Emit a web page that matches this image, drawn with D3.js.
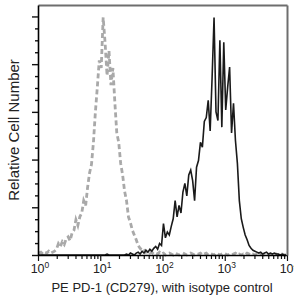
<!DOCTYPE html>
<meta charset="utf-8">
<style>
body { margin: 0; background: #fff; }
text { font-family: "Liberation Sans", Arial, sans-serif; fill: #222; }
.frame { fill: none; stroke: #6e6e6e; stroke-width: 2px; }
</style>
<svg width="294" height="298"></svg>
<script src="https://d3js.org/d3.v7.min.js"></script>
<script>

// channels are 1/32 decade wide, channel 0 starts at 10^0
var channelsPerDecade = 32;
var decades = [0, 1, 2, 3, 4];

// isotype control (grey dashed)
var isotype = [
  2, 3, 1, 3, 2, 4, 2, 3, 4, 6,
  12, 9, 14, 11, 17, 19, 15, 23, 26, 37,
  31, 40, 44, 57, 52, 71, 86, 95, 118, 150,
  176, 204, 196, 249, 222, 188, 214, 178, 196, 160,
  128, 118, 96, 84, 67, 57, 40, 34, 26, 21,
  16, 10, 7, 5, 6, 3, 4, 2, 3, 1,
  2, 1, 3, 1, 2, 0, 1, 2, 1, 0,
  2, 1, 0, 1, 2, 1, 0, 1, 2, 1,
  0, 1, 1, 2, 0, 1, 2, 0, 1, 1,
  0, 2, 1, 0, 1, 2, 1, 0, 1, 0,
  1, 2, 0, 1, 0, 1, 0, 2, 1, 0,
  1, 0, 1, 0, 1, 0, 0, 1, 0, 1,
  0, 0, 1, 0, 0, 1, 0, 0
];

// PE PD-1 (CD279) stained cells (black)
var pd1 = [
  0, 0, 0, 0, 0, 0, 0, 0, 0, 0,
  0, 0, 0, 0, 0, 0, 0, 0, 0, 0,
  0, 0, 0, 0, 0, 0, 0, 0, 0, 0,
  0, 0, 0, 0, 0, 1, 0, 0, 0, 0,
  0, 0, 0, 0, 0, 1, 0, 2, 1, 0,
  2, 3, 1, 4, 2, 5, 3, 6, 4, 7,
  9, 6, 12, 10, 33, 18, 24, 21, 30, 38,
  57, 40, 52, 44, 66, 75, 62, 84, 89, 78,
  57, 92, 99, 118, 113, 140, 144, 162, 130, 186,
  249, 150, 141, 225, 134, 223, 152, 176, 197, 128,
  159, 120, 96, 57, 38, 29, 21, 16, 10, 7,
  5, 4, 3, 2, 3, 1, 2, 3, 1, 2,
  1, 2, 1, 1, 0, 1, 0, 0
];

var yMajor = [0, 50, 100, 150, 200, 250];

var svg = d3.select("svg"),
    mLeft = 38, mRight = 287, mTop = 5, mBottom = 255;

var x = d3.scaleLog().domain([1, 10000]).range([mLeft, mRight]);
var y = d3.scaleLinear().domain([0, 262]).range([mBottom, mTop]);

function chanX(i) { return x(Math.pow(10, (i + 0.5) / channelsPerDecade)); }

var line = d3.line()
    .x(function(d, i) { return chanX(i); })
    .y(function(d) { return y(d); });

svg.append("path")
    .datum(isotype)
    .attr("d", line)
    .attr("fill", "none")
    .attr("stroke", "#a9a9a9")
    .attr("stroke-width", 2.8)
    .attr("stroke-dasharray", "5,3");

svg.append("path")
    .datum(pd1)
    .attr("d", line)
    .attr("fill", "none")
    .attr("stroke", "#1a1a1a")
    .attr("stroke-width", 1.6);

// x axis
var xMinor = [];
decades.slice(0, -1).forEach(function(p) {
  for (var m = 2; m < 10; m++) xMinor.push(m * Math.pow(10, p));
});

var xAxis = svg.append("g").attr("transform", "translate(0," + mBottom + ")");
xAxis.append("g")
    .call(d3.axisBottom(x).tickValues(xMinor).tickSize(4).tickFormat(""))
    .call(function(g) { g.select(".domain").remove(); });
xAxis.append("g")
    .call(d3.axisBottom(x).tickValues(decades.map(function(p) { return Math.pow(10, p); }))
      .tickSize(6).tickSizeOuter(0).tickFormat(""))
    .call(function(g) { g.select(".domain").attr("stroke-width", 1.6); });
xAxis.selectAll(".tick line").attr("stroke", "#111").attr("stroke-width", 1.2);

// top and right edges of the frame, drawn as axes without ticks
svg.append("g")
    .attr("transform", "translate(0," + mTop + ")")
    .call(d3.axisTop(x).tickValues([]).tickSizeOuter(0))
    .call(function(g) { g.select(".domain").attr("class", "frame"); });
svg.append("g")
    .attr("transform", "translate(" + mRight + ",0)")
    .call(d3.axisRight(y).tickValues([]).tickSizeOuter(0))
    .call(function(g) { g.select(".domain").attr("class", "frame"); });

var lab = svg.append("g").selectAll("text")
    .data(decades)
    .join("text")
    .attr("x", function(p) { return x(Math.pow(10, p)) + 2; })
    .attr("y", 273)
    .attr("text-anchor", "middle")
    .style("font-size", "12.5px");
lab.append("tspan").text("10");
lab.append("tspan").attr("dy", -5).style("font-size", "8.5px").text(function(p) { return p; });

// y axis
var yMinor = d3.range(0, 262, 12.5).filter(function(v) { return v % 50 !== 0; });
var yAxis = svg.append("g").attr("transform", "translate(" + mLeft + ",0)");
yAxis.append("g")
    .call(d3.axisLeft(y).tickValues(yMinor).tickSize(3).tickFormat(""))
    .call(function(g) { g.select(".domain").remove(); });
yAxis.append("g")
    .call(d3.axisLeft(y).tickValues(yMajor).tickSize(6).tickSizeOuter(0).tickFormat(""))
    .call(function(g) { g.select(".domain").attr("stroke-width", 1.6); });
yAxis.selectAll(".tick line").attr("stroke", "#111").attr("stroke-width", 1.4);

svg.append("text")
    .attr("x", 162)
    .attr("y", 292)
    .attr("text-anchor", "middle")
    .style("font-size", "13px")
    .text("PE PD-1 (CD279), with isotype control");

svg.append("text")
    .attr("transform", "translate(19,130)rotate(-90)")
    .attr("text-anchor", "middle")
    .style("font-size", "15px")
    .text("Relative Cell Number");

</script>
